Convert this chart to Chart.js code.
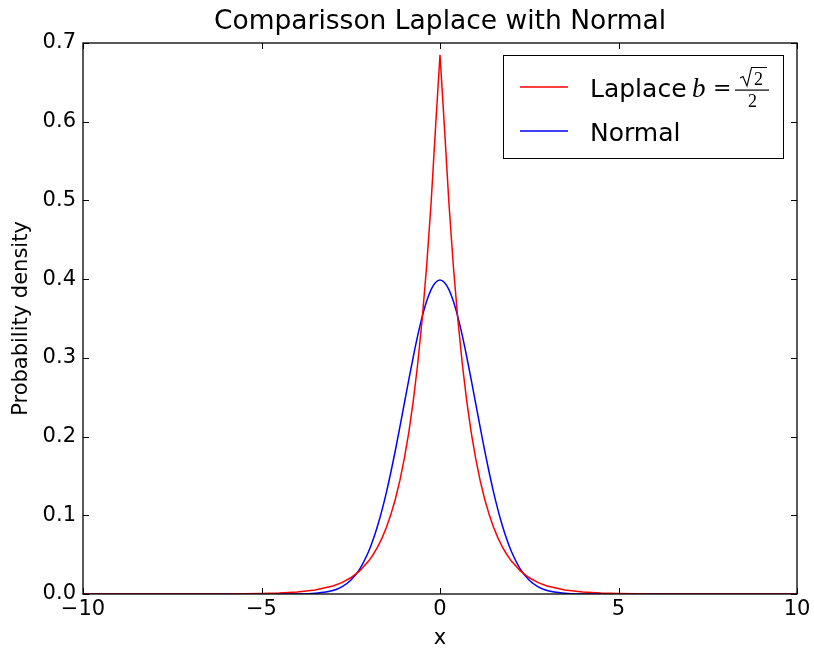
<!DOCTYPE html>
<html>
<head>
<meta charset="utf-8">
<script src="https://cdn.jsdelivr.net/npm/chart.js@4.4.1/dist/chart.umd.min.js"></script>
<style>
  body { margin: 0; background: #fff; }
  canvas { display: block; }
</style>
</head>
<body>
<canvas id="pdf-chart" width="814" height="651"></canvas>
<script>
// x positions and the two density curves
const xs = [-10, -8, -6, -5, -4.5, -4, -3.5, -3, -2.75, -2.5, -2.25, -2, -1.875, -1.75, -1.625, -1.5, -1.375, -1.25, -1.125, -1,
    -0.875, -0.75, -0.625, -0.5, -0.375, -0.25, -0.125, 0, 0.125, 0.25, 0.375, 0.5, 0.625, 0.75, 0.875,
    1, 1.125, 1.25, 1.375, 1.5, 1.625, 1.75, 1.875, 2, 2.25, 2.5, 2.75, 3, 3.5, 4, 4.5, 5, 6, 8, 10];

const laplace = [0, 0, 0.0001, 0.0006, 0.0012, 0.0025, 0.0050, 0.0102, 0.0145, 0.0206, 0.0294, 0.0418, 0.0499, 0.0595, 0.0710, 0.0848, 0.1012, 0.1207, 0.1440, 0.1719,
    0.2051, 0.2448, 0.2922, 0.3487, 0.4161, 0.4965, 0.5925, 0.685, 0.5925, 0.4965, 0.4161, 0.3487, 0.2922, 0.2448, 0.2051,
    0.1719, 0.1440, 0.1207, 0.1012, 0.0848, 0.0710, 0.0595, 0.0499, 0.0418, 0.0294, 0.0206, 0.0145, 0.0102, 0.0050, 0.0025, 0.0012, 0.0006, 0.0001, 0, 0];

const normal = [0, 0, 0, 0, 0, 0.0001, 0.0009, 0.0044, 0.0091, 0.0175, 0.0317, 0.0540, 0.0688, 0.0863, 0.1066, 0.1295, 0.1550, 0.1826, 0.2119, 0.2420,
    0.2721, 0.3011, 0.3282, 0.3521, 0.3718, 0.3867, 0.3958, 0.3989, 0.3958, 0.3867, 0.3718, 0.3521, 0.3282, 0.3011, 0.2721,
    0.2420, 0.2119, 0.1826, 0.1550, 0.1295, 0.1066, 0.0863, 0.0688, 0.0540, 0.0317, 0.0175, 0.0091, 0.0044, 0.0009, 0.0001, 0, 0, 0, 0, 0];

const xTicks = [-10, -5, 0, 5, 10];
const yTicks = [0, 0.1, 0.2, 0.3, 0.4, 0.5, 0.6, 0.7];

Chart.defaults.font.family = "'DejaVu Sans', sans-serif";
Chart.defaults.color = '#000';

// matplotlib classic look: frame, inward ticks on all sides, boxed legend
const frameTicks = {
    id: 'frameTicks',
    afterDatasetsDraw(chart) {
        const ctx = chart.ctx;
        const a = chart.chartArea;
        const x = chart.scales.x, y = chart.scales.y;
        const len = 6;
        ctx.save();
        ctx.strokeStyle = '#000';
        ctx.lineWidth = 1;
        xTicks.forEach(v => {
            const px = Math.round(x.getPixelForValue(v)) + 0.5;
            ctx.beginPath();
            ctx.moveTo(px, a.bottom); ctx.lineTo(px, a.bottom - len);
            ctx.moveTo(px, a.top); ctx.lineTo(px, a.top + len);
            ctx.stroke();
        });
        yTicks.forEach(v => {
            const py = Math.round(y.getPixelForValue(v)) + 0.5;
            ctx.beginPath();
            ctx.moveTo(a.left, py); ctx.lineTo(a.left + len, py);
            ctx.moveTo(a.right, py); ctx.lineTo(a.right - len, py);
            ctx.stroke();
        });
        ctx.lineWidth = 1.3;
        ctx.strokeRect(a.left, a.top, a.right - a.left, a.bottom - a.top);

        // legend
        const bx = 503.5, by = 55.5, bw = 280, bh = 103;
        ctx.fillStyle = '#fff';
        ctx.fillRect(bx, by, bw, bh);
        ctx.lineWidth = 1;
        ctx.strokeRect(bx, by, bw, bh);
        const rows = [{ y: 87, color: '#ff0000' }, { y: 131, color: '#0000ff' }];
        rows.forEach(r => {
            ctx.strokeStyle = r.color;
            ctx.lineWidth = 1.5;
            ctx.beginPath();
            ctx.moveTo(520, r.y); ctx.lineTo(568, r.y);
            ctx.stroke();
        });
        ctx.fillStyle = '#000';
        ctx.strokeStyle = '#000';
        ctx.textBaseline = 'alphabetic';
        ctx.font = "25px 'DejaVu Sans'";
        ctx.fillText('Laplace', 590, 97);
        ctx.font = "italic 27px 'Liberation Serif'";
        ctx.fillText('b', 692, 97);
        ctx.font = "22px 'DejaVu Serif'";
        ctx.fillText('=', 713, 95);
        // fraction sqrt(2) / 2
        ctx.fillRect(735, 89.5, 34, 1.2);
        ctx.lineWidth = 1.1;
        ctx.beginPath();
        ctx.moveTo(740, 78); ctx.lineTo(743, 76.5);
        ctx.lineTo(747, 86); ctx.lineTo(751.5, 67.5); ctx.lineTo(767, 67.5);
        ctx.stroke();
        ctx.font = "18px 'Liberation Serif'";
        ctx.fillText('2', 754, 85);
        ctx.fillText('2', 748, 107);
        ctx.font = "25px 'DejaVu Sans'";
        ctx.fillText('Normal', 590, 141);
        ctx.restore();
    }
};

const ctx = document.getElementById('pdf-chart');
const data = {
    datasets: [{
        label: 'Laplace',
        data: xs.map((v, i) => ({ x: v, y: laplace[i] })),
        borderColor: '#ff0000',
        borderWidth: 1.5,
        pointRadius: 0,
        tension: 0
    }, {
        label: 'Normal',
        data: xs.map((v, i) => ({ x: v, y: normal[i] })),
        borderColor: '#0000ff',
        borderWidth: 1.5,
        pointRadius: 0,
        cubicInterpolationMode: 'monotone'
    }]
};
const config = {
    type: 'line',
    data: data,
    options: {
        responsive: false,
        animation: false,
        layout: { padding: { left: 0, right: 17, top: 0, bottom: 0 } },
        plugins: {
            legend: { display: false },
            tooltip: { enabled: false },
            title: {
                display: true,
                text: 'Comparisson Laplace with Normal',
                fullSize: false,
                font: { size: 26.5, weight: 'normal' },
                padding: { top: 6, bottom: 5.2 }
            }
        },
        scales: {
            x: {
                type: 'linear',
                min: -10, max: 10,
                afterBuildTicks: s => { s.ticks = xTicks.map(v => ({ value: v })); },
                afterFit: s => { s.height = 57; },
                grid: { display: false, drawTicks: false },
                border: { display: false },
                ticks: {
                    font: { size: 21 },
                    padding: 3,
                    maxRotation: 0,
                    callback: v => String(v).replace('-', '\u2212')
                },
                title: { display: true, text: 'x', font: { size: 21 }, padding: { top: 0, bottom: 0 } }
            },
            y: {
                min: 0, max: 0.7,
                afterBuildTicks: s => { s.ticks = yTicks.map(v => ({ value: v })); },
                afterFit: s => { s.width = 83; },
                grid: { display: false, drawTicks: false },
                border: { display: false },
                ticks: {
                    font: { size: 21 },
                    padding: 7,
                    callback: v => v.toFixed(1)
                },
                title: { display: true, text: 'Probability density', font: { size: 21 }, padding: { top: 9, bottom: 0 } }
            }
        }
    },
    plugins: [frameTicks]
};
const myChart = new Chart(ctx, config);
</script>
</body>
</html>
